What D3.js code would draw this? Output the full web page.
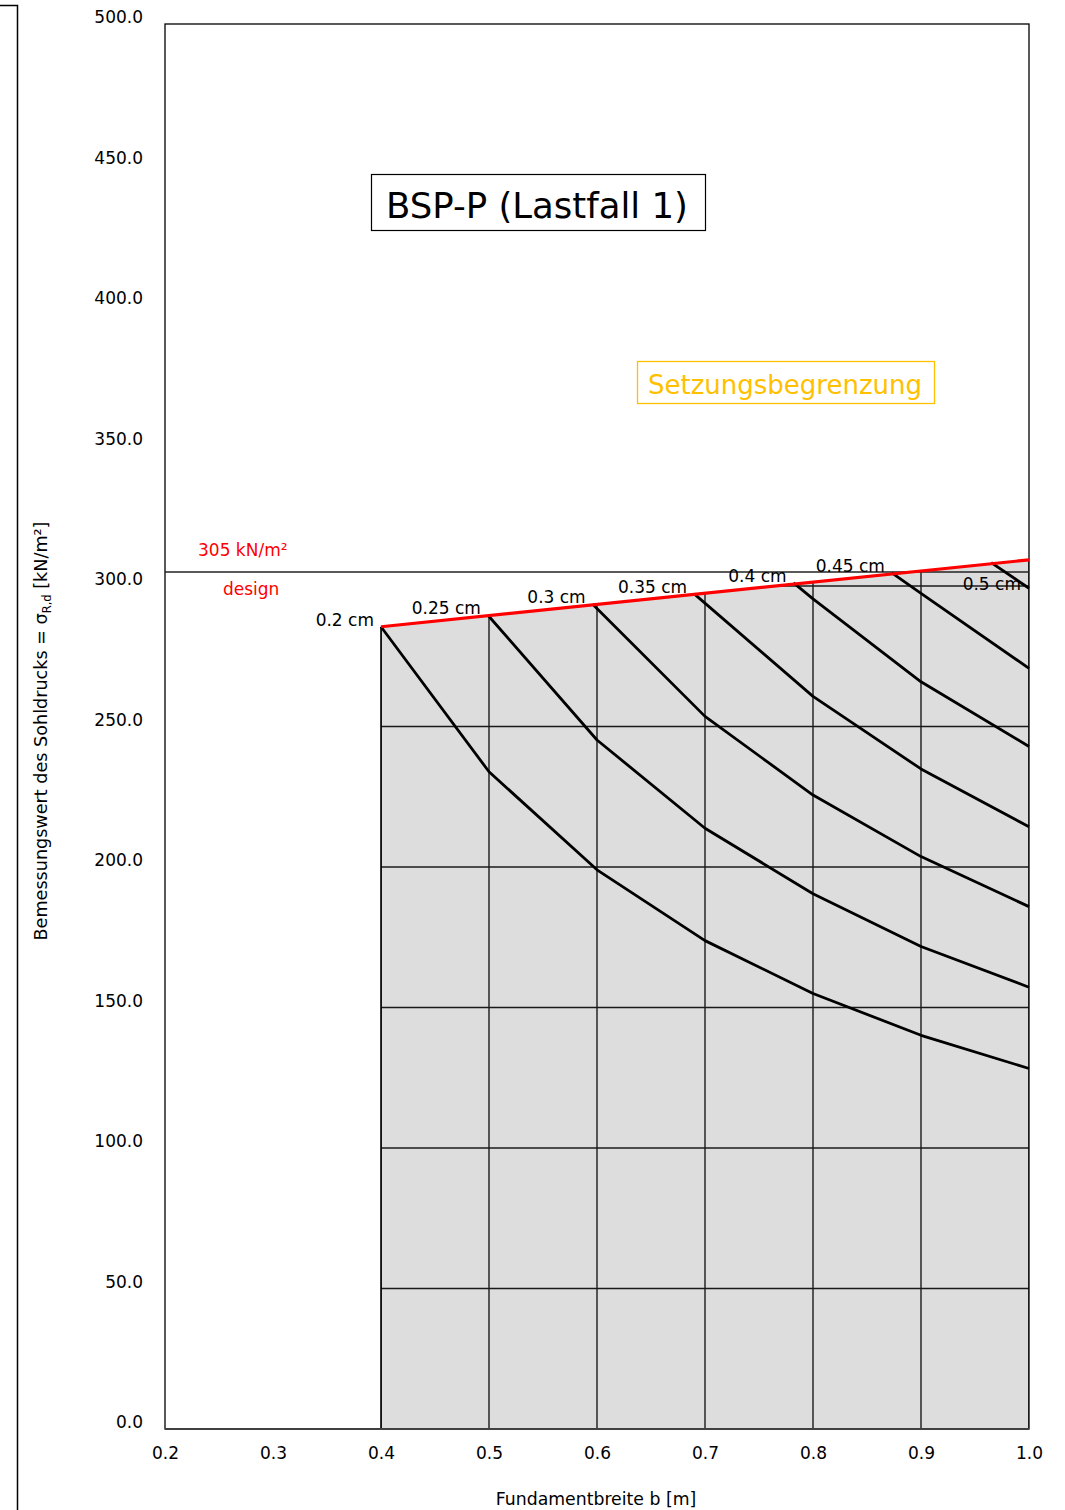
<!DOCTYPE html>
<html>
<head>
<meta charset="utf-8">
<script src="https://cdn.jsdelivr.net/npm/d3@7"></script>
<style>
  html, body { margin: 0; padding: 0; background: #fff; }
  svg { display: block; font-family: "DejaVu Sans", sans-serif; }
</style>
</head>
<body>
<svg id="chart" width="1065" height="1510"></svg>
<script>
// Axis ticks
const widthTicks = [0.2, 0.3, 0.4, 0.5, 0.6, 0.7, 0.8, 0.9, 1.0];
const sigmaTicks = [0, 50, 100, 150, 200, 250, 300, 350, 400, 450, 500];

// Grid inside the admissible region
const gridWidths = [0.4, 0.5, 0.6, 0.7, 0.8, 0.9, 1.0];
const gridSigmas = [50, 100, 150, 200, 250, 300];

// Design resistance line (red) – foundation width b [m] vs sigma [kN/m²]
const designB = [0.4, 1.0];
const designSigma = [285.5, 309.3];

// Design limit value
const designLimit = 305;

// Settlement isolines: widths and sigma values
const settlementLabels = ["0.2 cm", "0.25 cm", "0.3 cm", "0.35 cm", "0.4 cm", "0.45 cm", "0.5 cm"];
const s020B = [0.4, 0.5, 0.6, 0.7, 0.8, 0.9, 1.0];
const s020Sigma = [285.5, 233.9, 199.0, 173.8, 155.0, 140.1, 128.3];
const s025B = [0.499, 0.6, 0.7, 0.8, 0.9, 1.0];
const s025Sigma = [289.6, 245.2, 213.8, 190.5, 171.7, 157.2];
const s030B = [0.596, 0.7, 0.8, 0.9, 1.0];
const s030Sigma = [293.5, 253.6, 225.6, 203.7, 185.9];
const s035B = [0.690, 0.8, 0.9, 1.0];
const s035Sigma = [297.2, 260.7, 234.9, 214.3];
const s040B = [0.782, 0.8, 0.9, 1.0];
const s040Sigma = [301.1, 295.4, 265.9, 242.9];
const s045B = [0.873, 0.9, 1.0];
const s045Sigma = [304.7, 297.4, 270.7];
const s050B = [0.965, 1.0];
const s050Sigma = [308.3, 299.2];

const isolines = [
  [s020B, s020Sigma], [s025B, s025Sigma], [s030B, s030Sigma], [s035B, s035Sigma],
  [s040B, s040Sigma], [s045B, s045Sigma], [s050B, s050Sigma]
].map(([bs, ss], i) => ({ label: settlementLabels[i], pts: bs.map((b, j) => [b, ss[j]]) }));

const svg = d3.select("#chart");

const x = d3.scaleLinear().domain([0.2, 1.0]).range([165, 1029]);
const y = d3.scaleLinear().domain([0, 500]).range([1429, 24]);

// outer chart frame edge
svg.append("path")
  .attr("d", "M0,5.5H17.5V1510")
  .attr("fill", "none").attr("stroke", "#000").attr("stroke-width", 1.5);

// admissible region below the design line
const designPts = designB.map((b, i) => [b, designSigma[i]]);
const area = d3.area().x(d => x(d[0])).y0(y(0)).y1(d => y(d[1]));

svg.append("clipPath").attr("id", "regionClip")
  .append("path").attr("d", area(designPts));

svg.append("path")
  .attr("d", area(designPts))
  .attr("fill", "#dddddd");

const grid = svg.append("g").attr("clip-path", "url(#regionClip)")
  .attr("stroke", "#1a1a1a").attr("stroke-width", 1.4);
grid.selectAll("line.h").data(gridSigmas).join("line")
  .attr("class", "h")
  .attr("x1", x(0.4)).attr("x2", x(1.0))
  .attr("y1", d => y(d)).attr("y2", d => y(d));
grid.selectAll("line.v").data(gridWidths).join("line")
  .attr("class", "v")
  .attr("x1", d => x(d)).attr("x2", d => x(d))
  .attr("y1", y(0)).attr("y2", y(320));

// region edges
svg.append("line")
  .attr("x1", x(0.4)).attr("x2", x(0.4))
  .attr("y1", y(0)).attr("y2", y(designSigma[0]))
  .attr("stroke", "#000").attr("stroke-width", 1.6);

// plot frame
svg.append("rect")
  .attr("x", x(0.2)).attr("y", y(500))
  .attr("width", x(1.0) - x(0.2)).attr("height", y(0) - y(500))
  .attr("fill", "none").attr("stroke", "#000").attr("stroke-width", 1.3);
svg.append("line")
  .attr("x1", x(0.2)).attr("x2", x(1.0))
  .attr("y1", y(0)).attr("y2", y(0))
  .attr("stroke", "#404040").attr("stroke-width", 2);

// design limit line
svg.append("line")
  .attr("x1", x(0.2)).attr("x2", x(1.0))
  .attr("y1", y(designLimit)).attr("y2", y(designLimit))
  .attr("stroke", "#222").attr("stroke-width", 1.5);

// settlement isolines
const line = d3.line().x(d => x(d[0])).y(d => y(d[1]));
svg.append("g").selectAll("path").data(isolines).join("path")
  .attr("d", d => line(d.pts))
  .attr("fill", "none").attr("stroke", "#000").attr("stroke-width", 2.8)
  .attr("stroke-linejoin", "round");

// design line
svg.append("path")
  .attr("d", d3.line().x(d => x(d[0])).y(d => y(d[1]))(designPts))
  .attr("fill", "none").attr("stroke", "#ff0000").attr("stroke-width", 3.2);

// isoline labels
svg.append("g").selectAll("text").data(isolines).join("text")
  .attr("x", (d, i) => i === isolines.length - 1 ? x(1.0) - 8 : x(d.pts[0][0]) - 7)
  .attr("y", (d, i) => i === isolines.length - 1 ? y(d.pts[0][1]) + 27 : y(d.pts[0][1]) - 1)
  .attr("text-anchor", "end")
  .attr("font-size", 17).attr("fill", "#000")
  .text(d => d.label);

// y axis labels
const yAxis = d3.axisLeft(y).tickValues(sigmaTicks).tickFormat(d3.format(".1f"))
  .tickSize(0).tickPadding(0);
svg.append("g").attr("transform", `translate(143,0)`).call(yAxis)
  .call(g => g.select(".domain").remove())
  .call(g => g.selectAll("text")
    .attr("font-family", "DejaVu Sans").attr("font-size", 17).attr("fill", "#000")
    .attr("dy", "-0.08em"));

// x axis labels
const xAxis = d3.axisBottom(x).tickValues(widthTicks).tickFormat(d3.format(".1f"))
  .tickSize(0).tickPadding(0);
svg.append("g").attr("transform", `translate(0,${y(0) + 18})`).call(xAxis)
  .call(g => g.select(".domain").remove())
  .call(g => g.selectAll("text")
    .attr("font-family", "DejaVu Sans").attr("font-size", 17).attr("fill", "#000"));

// axis titles
svg.append("text")
  .attr("x", 596).attr("y", 1505)
  .attr("text-anchor", "middle").attr("font-size", 17.3)
  .text("Fundamentbreite b [m]");

const yt = svg.append("text")
  .attr("transform", "translate(47,731) rotate(-90)")
  .attr("text-anchor", "middle").attr("font-size", 17.6);
yt.append("tspan").text("Bemessungswert des Sohldrucks = σ");
yt.append("tspan").attr("font-size", 11.5).attr("dy", 4).text("R,d");
yt.append("tspan").attr("dy", -4).text(" [kN/m²]");

// design value annotation
svg.append("text")
  .attr("x", 198).attr("y", y(designLimit) - 16)
  .attr("font-size", 17).attr("fill", "#ff0000")
  .text("305 kN/m²");
svg.append("text")
  .attr("x", 223).attr("y", y(designLimit) + 23)
  .attr("font-size", 17).attr("fill", "#ff0000")
  .text("design");

// title box
svg.append("rect")
  .attr("x", 371.5).attr("y", 174.5).attr("width", 334).attr("height", 56)
  .attr("fill", "#fff").attr("stroke", "#000").attr("stroke-width", 1.2);
svg.append("text")
  .attr("x", 537).attr("y", 218)
  .attr("text-anchor", "middle").attr("font-size", 35.5)
  .text("BSP-P (Lastfall 1)");

// settlement limit legend box
svg.append("rect")
  .attr("x", 637.5).attr("y", 361.5).attr("width", 297).attr("height", 42)
  .attr("fill", "#fff").attr("stroke", "#ffc000").attr("stroke-width", 1.3);
svg.append("text")
  .attr("x", 785).attr("y", 394)
  .attr("text-anchor", "middle").attr("font-size", 26).attr("fill", "#ffc000")
  .text("Setzungsbegrenzung");
</script>
</body>
</html>
